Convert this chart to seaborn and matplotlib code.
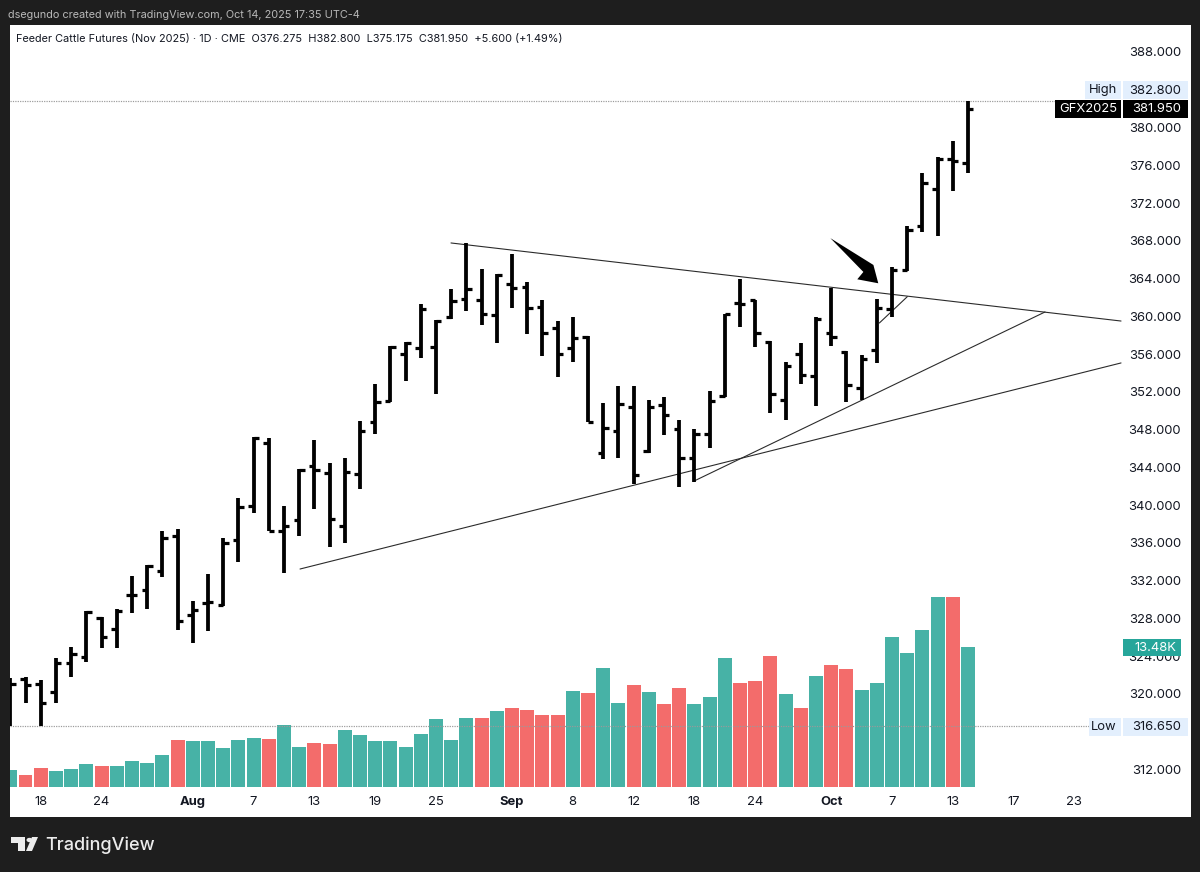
import matplotlib
matplotlib.use("Agg")
import matplotlib.pyplot as plt
from matplotlib.patches import Rectangle, Polygon, Circle
import pandas as pd
import seaborn as sns

# daily bars
opens = [321.5, 321.55, 321.05, 320.2, 323.24, 323.88, 328.04, 326.91, 330.51, 331.01, 333.06, 336.73,
         328.4, 329.6, 329.46, 336.3, 339.91, 346.54, 337.3, 338.42, 344.14, 343.37, 337.79, 343.3,
         348.77, 351.06, 355.97, 356.64, 356.79, 359.96, 361.83, 361.68, 360.14, 363.42, 363.07, 361.02,
         358.73, 356.68, 357.84, 345.56, 347.89, 350.36, 345.7, 350.57, 348.03, 344.96, 347.57, 351.56,
         361.45, 361.73, 357.28, 351.1, 355.97, 353.68, 358.27, 356.22, 352.44, 356.4, 360.78, 364.9,
         369.57, 373.52, 376.63, 376.275]
highs = [321.65, 321.83, 321.47, 323.77, 325.0, 328.75, 328.11, 328.96, 332.49, 333.69, 337.3, 337.44,
         329.88, 332.7, 336.55, 340.75, 347.18, 347.11, 339.91, 343.86, 346.9, 344.43, 344.96, 348.91,
         352.83, 356.86, 357.28, 361.3, 359.57, 362.86, 367.8, 365.01, 364.45, 366.64, 363.6, 361.73,
         359.54, 359.96, 357.95, 350.78, 352.65, 352.58, 351.1, 351.42, 349.02, 348.03, 352.09, 360.28,
         363.92, 361.73, 357.35, 355.13, 357.17, 359.89, 363.0, 356.29, 355.94, 361.8, 365.26, 369.6,
         375.2, 376.84, 378.57, 382.8]
lows = [316.65, 319.07, 316.65, 319.07, 321.83, 323.38, 324.83, 324.83, 328.61, 329.03, 332.35, 326.77,
        325.36, 326.63, 329.3, 333.97, 339.13, 337.22, 332.85, 336.76, 339.62, 335.53, 335.95, 341.67,
        347.5, 350.96, 353.1, 355.55, 351.77, 359.68, 360.56, 359.08, 357.14, 360.88, 358.13, 355.83,
        353.57, 355.13, 348.77, 344.85, 344.96, 342.24, 345.56, 347.43, 341.95, 342.48, 346.05, 351.42,
        358.83, 356.78, 349.76, 348.98, 352.8, 350.5, 356.86, 350.89, 351.13, 355.02, 359.96, 364.8,
        368.9, 368.5, 373.27, 375.175]
closes = [321.05, 320.94, 319.07, 323.31, 324.23, 328.68, 326.07, 328.75, 330.51, 333.55, 336.5, 327.76,
          328.89, 329.77, 336.02, 339.84, 347.11, 337.3, 337.79, 343.72, 343.72, 338.5, 343.51, 347.89,
          350.89, 356.79, 357.17, 360.74, 359.5, 361.66, 362.89, 360.21, 364.38, 363.03, 360.92, 358.27,
          355.97, 357.67, 348.8, 348.17, 350.71, 343.19, 350.43, 349.58, 344.96, 347.54, 351.03, 360.21,
          361.27, 358.2, 351.77, 354.74, 353.82, 359.75, 357.81, 352.76, 355.44, 360.92, 364.91, 369.14,
          374.16, 376.63, 376.5, 381.95]

# volume in thousands
volumes = [1.64, 1.16, 1.86, 1.51, 1.77, 2.21, 2.05, 2.05, 2.5, 2.31, 3.05, 4.49,
           4.43, 4.4, 3.75, 4.56, 4.75, 4.62, 6.0, 3.88, 4.24, 4.11, 5.49, 5.04,
           4.4, 4.4, 3.85, 5.1, 6.58, 4.56, 6.68, 6.61, 7.28, 7.64, 7.45, 6.96,
           6.9, 9.24, 9.02, 11.46, 8.09, 9.79, 9.15, 7.99, 9.5, 7.99, 8.63, 12.39,
           10.01, 10.24, 12.64, 8.95, 7.64, 10.72, 11.78, 11.36, 9.37, 9.98, 14.47, 12.93,
           15.12, 18.29, 18.29, 13.48]
red_days = [1, 2, 6, 11, 17, 20, 21, 31, 33, 34, 35, 36, 38, 41, 43, 44, 48, 49, 50, 52, 54, 55, 62]

price_ticks = list(range(312, 392, 4))
date_pos = [2, 6, 12, 16, 20, 24, 28, 33, 37, 41, 45, 49, 54, 58, 62, 66, 70]
date_labels = ["18", "24", "Aug", "7", "13", "19", "25", "Sep", "8", "12", "18", "24", "Oct", "7", "13", "17", "23"]
bold_labels = ["Aug", "Sep", "Oct"]

# hand drawn trend lines: (bar, price) at each end
trend_lines = [
    ((28.99, 367.77), (73.07, 359.5)),
    ((19.06, 333.23), (73.07, 355.06)),
    ((44.98, 342.55), (68.07, 360.46)),
    ((57.17, 359.29), (59.01, 362.08)),
]
arrow_x = [53.95, 56.78, 57.1, 55.72, 56.12]
arrow_y = [368.28, 365.44, 363.5, 363.92, 364.7]
high_price = 382.8
low_price = 316.65

W, H = 1200, 872
DARK = "#1e1e1e"
TEAL = "#47b2a6"
RED = "#f36c6b"
TEXT = "#131722"

sns.set_theme(style="white")
plt.rcParams["font.family"] = ["Inter", "DejaVu Sans"]


def px(v):
    return v * 0.72


fig = plt.figure(figsize=(12, 8.72), dpi=100, facecolor=DARK)
left, right, top, bottom = 9.5, 1190.5, 25, 817
ax2 = fig.add_axes([left / W, 1 - bottom / H, (right - left) / W, (bottom - top) / H])
ax = ax2.twinx()

df = pd.DataFrame({"bar": range(len(volumes)), "volume": volumes})
df["side"] = ["down" if i in red_days else "up" for i in df["bar"]]
sns.barplot(data=df, x="bar", y="volume", hue="side", palette={"up": TEAL, "down": RED},
            native_scale=True, dodge=False, legend=False, width=0.92, saturation=1,
            linewidth=0, ax=ax2)

bars = list(range(len(opens)))
ax.vlines(bars, lows, highs, color="black", lw=px(3.8), zorder=3)
ax.hlines(opens, [b - 0.36 for b in bars], bars, color="black", lw=px(3.2), zorder=3)
ax.hlines(closes, bars, [b + 0.36 for b in bars], color="black", lw=px(3.2), zorder=3)

for (x0, y0), (x1, y1) in trend_lines:
    ax.plot([x0, x1], [y0, y1], color="#2a2a2a", lw=px(1.1), zorder=2)
ax.fill(arrow_x, arrow_y, color="black", lw=0, zorder=4)

ax.hlines(high_price, 0, 70.7, color="#9a9a9a", lw=px(1.2), ls=(0, (1, 1)), zorder=1)
ax.hlines(low_price, 0, 70.97, color="#9a9a9a", lw=px(1.2), ls=(0, (1, 1)), zorder=1)

# scales are fixed so that one bar = 15.2 px, 4 price points = 37.76 px and 1K of volume = 10.39 px
ax.set_xlim(-0.053, 77.64)
ax2.set_xlim(-0.053, 77.64)
ax.set_ylim(306.96, 390.86)
ax2.set_ylim(-30 / 10.39, 762 / 10.39)

ax2.set_ylabel("")
ax2.set_xlabel("")
ax2.set_yticks([])
ax2.set_xticks(date_pos)
ax2.set_xticklabels(date_labels)
ax2.tick_params(axis="x", length=0, pad=px(-21), labelsize=px(13), labelcolor=TEXT)
for lab in ax2.get_xticklabels():
    if lab.get_text() in bold_labels:
        lab.set_fontweight("bold")

ax.set_ylabel("")
ax.set_yticks(price_ticks)
ax.set_yticklabels([f"{p:.3f}" for p in price_ticks])
ax.tick_params(axis="y", length=0, pad=px(-9.5), labelsize=px(13), labelcolor=TEXT)
for lab in ax.get_yticklabels():
    lab.set_ha("right")

for a in (ax, ax2):
    for s in a.spines.values():
        s.set_visible(False)


def box(x0, y0, x1, y1, color):
    fig.add_artist(Rectangle((x0 / W, 1 - y1 / H), (x1 - x0) / W, (y1 - y0) / H,
                             transform=fig.transFigure, facecolor=color, lw=0, zorder=5))


def label(x, y, s, color=TEXT, size=13, ha="right", weight="normal"):
    fig.text(x / W, 1 - y / H, s, color=color, fontsize=px(size), ha=ha, va="center",
             fontweight=weight, zorder=6)


# price scale tags
box(1085, 81.5, 1120.5, 99.5, "#e3effd")
box(1122.5, 81.5, 1187.5, 99.5, "#e3effd")
label(1117, 90.5, "High")
label(1181, 90.5, "382.800")
box(1055, 99.7, 1120.5, 118.3, "black")
box(1122.5, 99.7, 1187.5, 118.3, "black")
label(1117, 109, "GFX2025", color="white")
label(1181, 109, "381.950", color="white")
box(1089, 717.5, 1120.5, 735.5, "#e3effd")
box(1122.5, 717.5, 1187.5, 735.5, "#e3effd")
label(1117, 726.5, "Low")
label(1181, 726.5, "316.650")
box(1122.5, 638.5, 1180.5, 656, "#26a69a")
label(1176, 647.5, "13.48K", color="white")

# header and footer
label(8, 14.5, "dsegundo created with TradingView.com, Oct 14, 2025 17:35 UTC-4", color="#b8b8b8", size=10.9, ha="left")
label(16, 39, "Feeder Cattle Futures (Nov 2025) · 1D · CME  O376.275  H382.800  L375.175  C381.950  +5.600 (+1.49%)",
      size=10.93, ha="left")
label(45, 845, "TradingView", color="#ececec", size=18.1, ha="left", weight="medium")

# logo
logo = "#ececec"
box(11, 837, 24.5, 843, logo)
box(17.5, 837, 24.5, 851, logo)
fig.add_artist(Circle((29.5 / W, 1 - 840 / H), 3 / W, transform=fig.transFigure, facecolor=logo, lw=0, zorder=5))
fig.add_artist(Polygon([(32 / W, 1 - 837 / H), (38 / W, 1 - 837 / H), (32 / W, 1 - 851 / H), (26 / W, 1 - 851 / H)],
                       transform=fig.transFigure, facecolor=logo, lw=0, zorder=5))

fig.savefig("out.png", dpi=100, facecolor=DARK)
